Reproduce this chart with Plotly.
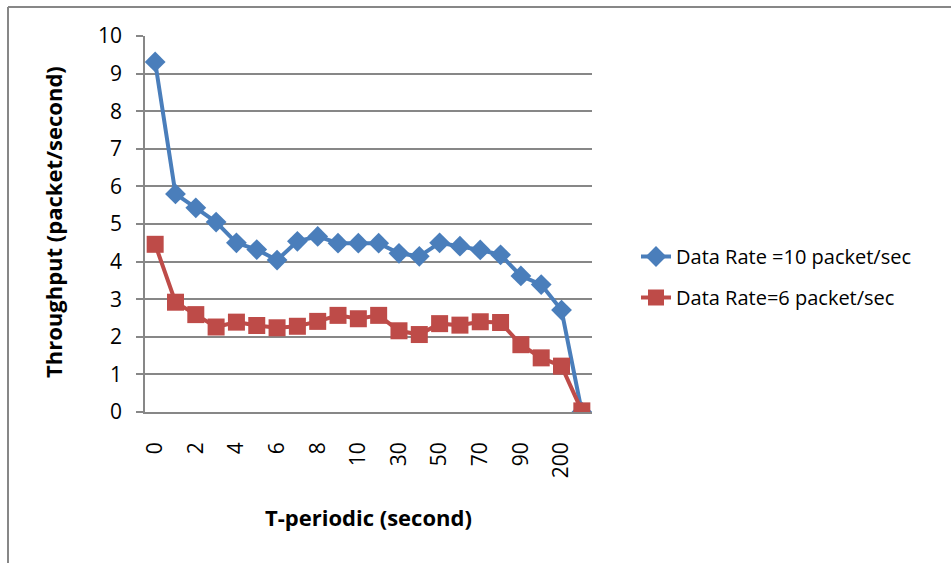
import plotly.graph_objects as go

# T-periodic categories (seconds)
periods = ["0", "1", "2", "3", "4", "5", "6", "7", "8", "9", "10",
           "20", "30", "40", "50", "60", "70", "80", "90", "100", "200", "300"]

# Throughput (packet/second) for each data rate
rate10 = [9.31, 5.80, 5.43, 5.05, 4.50, 4.32, 4.04, 4.54, 4.67, 4.49, 4.49,
          4.49, 4.22, 4.14, 4.50, 4.41, 4.31, 4.18, 3.62, 3.39, 2.71, 0.0]
rate6 = [4.46, 2.92, 2.59, 2.26, 2.39, 2.30, 2.24, 2.28, 2.41, 2.57, 2.48,
         2.57, 2.16, 2.06, 2.35, 2.31, 2.40, 2.38, 1.79, 1.44, 1.22, 0.03]

# Every other category is labelled on the x axis
shown_ticks = periods[0:21:2]

BLUE = "#4A7EBB"
RED = "#BE4B48"
GRID = "#878787"
FONT = "'Open Sans', Lato, sans-serif"

W, H = 951, 563
L, R, T, B = 145, 359, 36, 151
pw, ph = W - L - R, H - T - B


def px_x(p):
    return (p - L) / pw


def px_y(p):
    return (H - B - p) / ph


fig = go.Figure()
fig.add_trace(go.Scatter(
    x=periods, y=rate10, name="Data Rate =10 packet/sec", legendgroup="r10",
    mode="lines+markers",
    line=dict(color=BLUE, width=4),
    marker=dict(symbol="diamond", size=16, color=BLUE),
))
fig.add_trace(go.Scatter(
    x=periods, y=rate6, name="Data Rate=6 packet/sec", legendgroup="r6",
    mode="lines+markers",
    line=dict(color=RED, width=4),
    marker=dict(symbol="square", size=17, color=RED),
))

fig.update_layout(
    width=W, height=H,
    margin=dict(l=L, r=R, t=T, b=B),
    paper_bgcolor="white", plot_bgcolor="white",
    font=dict(family=FONT, color="black"),
    showlegend=True,
    legend=dict(
        x=px_x(636), y=px_y(237), xanchor="left", yanchor="top",
        font=dict(size=20, family=FONT), tracegroupgap=12,
        bgcolor="rgba(0,0,0,0)",
    ),
    xaxis=dict(
        type="category", categoryorder="array", categoryarray=periods,
        tickmode="array", tickvals=shown_ticks, ticktext=shown_ticks,
        tickangle=-90, tickfont=dict(size=21), ticks="",
        ticklabelstandoff=20,
        showgrid=False, showline=True, linecolor=GRID, linewidth=1.5,
        range=[-0.5, 21.5],
    ),
    yaxis=dict(
        range=[0, 10], dtick=1, tickfont=dict(size=21),
        ticks="outside", ticklen=7, tickcolor=GRID, tickwidth=1.5,
        ticklabelstandoff=10,
        showgrid=True, gridcolor=GRID, gridwidth=1.5,
        showline=True, linecolor=GRID, linewidth=1.5, zeroline=False,
    ),
    annotations=[
        dict(text="<b>T-periodic (second)</b>", xref="paper", yref="paper",
             x=px_x(368), y=px_y(517), xanchor="center", yanchor="middle",
             showarrow=False, font=dict(size=22, family=FONT)),
        dict(text="<b>Throughput (packet/second)</b>", xref="paper", yref="paper",
             x=px_x(53), y=px_y(222), xanchor="center", yanchor="middle",
             textangle=-90, showarrow=False, font=dict(size=22, family=FONT)),
    ],
)

# Chart frame: top and left edges
fig.add_shape(type="line", xref="paper", yref="paper",
              x0=px_x(8), x1=px_x(W + 5), y0=px_y(7), y1=px_y(7),
              line=dict(color=GRID, width=2))
fig.add_shape(type="line", xref="paper", yref="paper",
              x0=px_x(8), x1=px_x(8), y0=px_y(7), y1=px_y(H + 5),
              line=dict(color=GRID, width=2))

fig.write_html("out.html")
